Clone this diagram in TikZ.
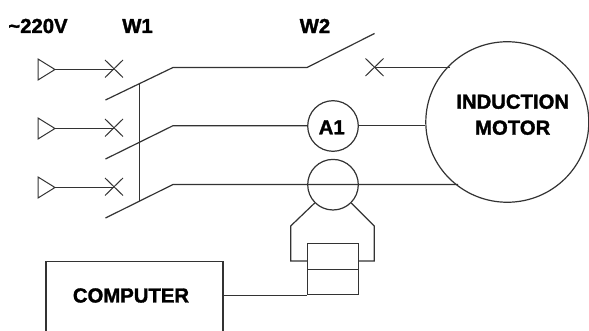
\documentclass[tikz,border=0pt]{standalone}
\usepackage{fontspec}
\setmainfont[BoldFeatures={FakeBold=1.6}]{Liberation Sans}
\usetikzlibrary{shapes.geometric}
\definecolor{wire}{HTML}{333333}
\tikzset{
  x=1pt,y=-1pt,
  wireline/.style={draw=wire,line width=1.2pt,line join=miter},
  thinline/.style={draw=wire,line width=1pt},
  lbl/.style={font=\fontsize{20.3}{26}\selectfont\bfseries,inner sep=0pt,align=center,text=black},
  ring/.style={circle,wireline,minimum size=50.6pt,inner sep=0pt},
  box/.style={rectangle,wireline,inner sep=0pt,minimum width=50.4pt,minimum height=25.7pt}
}
\begin{document}
\begin{tikzpicture}
\useasboundingbox (0,0) rectangle (589,331);
\clip (0,0) rectangle (589,331);

% labels
\node[lbl] (v220) at (38,26) {\textasciitilde 220V};
\node[lbl] (w1) at (137.5,26) {W1};
\node[lbl] (w2) at (315,26) {W2};

% main components
\node[ellipse,wireline,minimum width=163pt,minimum height=160.5pt,inner sep=0pt] (motor) at (507.3,122) {};
\node[lbl] (motortext) at (512.7,114.7) {INDUCTION\\MOTOR};
\node[ring] (a1) at (333,126) {};
\node[lbl] (a1text) at (331.7,127.3) {A1};
\node[ring] (ct) at (333,184.7) {};
\node[box] (r1) at (333,256.4) {};
\node[box] (r2) at (333,282) {};
\node[rectangle,wireline,minimum width=177pt,minimum height=76pt,inner sep=0pt] (comp) at (134.5,299.5) {};
\node[lbl] (comptext) at (131,295.5) {COMPUTER};

% sources, phase lines, contacts
\foreach \n/\sy/\by/\ty in {1/69.5/100/67.5, 2/128.5/159/125.7, 3/187.5/218/184.5}{
  \coordinate (tip\n) at (55,\sy);
  \coordinate (x\n) at (114,\sy);
  \draw[thinline] (38,\sy-10.5) -- (tip\n) -- (38,\sy+10.5) -- cycle;
  \draw[wireline] (tip\n) -- (x\n);
  \draw[thinline] (105,\sy-9.5) -- (123,\sy+8);
  \draw[thinline] (105,\sy+8) -- (123,\sy-9.5);
  \coordinate (blade\n) at (105.5,\by);
  \coordinate (bend\n) at (173,\ty);
}
\coordinate (gangtop) at (139.5,83.5);
\coordinate (gangbot) at (139.5,201.5);
\draw[wireline] (gangtop) -- (gangbot);

% W2 contact and phase 1
\coordinate (w2a) at (307,67.5);
\coordinate (w2b) at (374.5,33.5);
\coordinate (x4) at (374.5,67.5);
\coordinate (m1) at (450,67.5);
\draw[wireline] (blade1) -- (bend1) -- (w2a) -- (w2b);
\draw[wireline] (x4) -- (m1);
\draw[thinline] (365.5,58.5) -- (383.5,76);
\draw[thinline] (365.5,76) -- (383.5,58.5);

% phase 2 through ammeter
\coordinate (a1in) at (a1.west |- bend2);
\coordinate (a1out) at (a1.east |- bend2);
\coordinate (m2) at (motor.west |- bend2);
\draw[wireline] (blade2) -- (bend2) -- (a1in);
\draw[wireline] (a1out) -- (m2);

% phase 3 through current transformer
\coordinate (m3) at (458,184.5);
\draw[wireline] (blade3) -- (bend3) -- (m3);

% transformer leads
\coordinate (lk) at (290.7,226);
\coordinate (ll) at (290.7,261);
\coordinate (rk) at (374.3,226);
\coordinate (rl) at (374.3,261);
\draw[wireline] (ct.225) -- (lk) -- (ll) -- (r1.west |- ll);
\draw[wireline] (ct.-45) -- (rk) -- (rl) -- (r1.east |- rl);

% computer link
\draw[wireline] (comp.east |- r2.south) -- (r2.south west);
\end{tikzpicture}
\end{document}
